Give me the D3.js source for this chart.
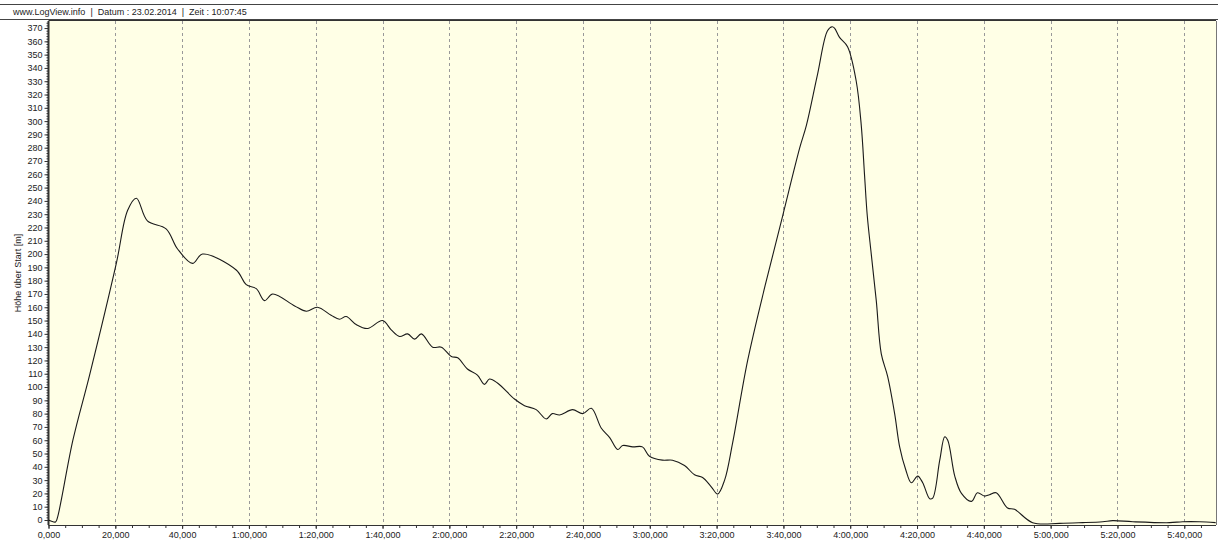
<!DOCTYPE html>
<html>
<head>
<meta charset="utf-8">
<script src="https://cdn.jsdelivr.net/npm/d3@7"></script>
<style>
  body { margin: 0; background: #fff; }
  svg { display: block; font-family: "Liberation Sans", Arial, sans-serif; }
  .axis text { font-size: 9px; fill: #222; }
  .axis path, .axis line { stroke: #333; }
</style>
</head>
<body>
<div id="chart"></div>
<script>
// time since start [s]
const times = [0, 0.9, 2.1, 2.7, 7.3, 12.3, 20.3, 23.7, 26.3, 29.6, 35.2, 38.6, 43.1, 46.1,
  56.2, 59.2, 62.2, 64.7, 67.1, 73.7, 77.2, 80.5, 84.6, 87.1, 89.1, 92.1, 95.5, 100.0, 102.6, 105.1,
  107.5, 109.6, 111.6, 115.0, 117.6, 120.6, 122.5, 125.4, 128.4, 130.5, 132.0, 134.4, 139.5, 142.5,
  146.0, 149.0, 150.8, 153.0, 156.9, 159.9, 162.5, 165.5, 168.0, 170.4, 171.9, 174.9, 177.8, 179.9,
  183.8, 186.8, 190.4, 193.4, 195.8, 198.4, 200.3, 202.4, 204.8, 209.3, 214.5, 219.8, 224.9, 226.9, 230.2,
  233.2, 234.6, 235.3, 236.8, 239.2, 241.8, 243.3, 244.3, 245.1, 246.3, 247.8, 249.3, 251.2, 253.3,
  254.8, 256.6, 258.3, 260.2, 261.7, 263.8, 264.7, 266.8, 268.3, 269.2, 271.3, 273.3, 276.3, 278.1,
  280.2, 281.7, 283.7, 287.1, 289.2, 294.6, 302.7, 309.6, 315.6, 318.6, 324.6, 335.6, 339.5, 344.6, 349.4];

// height above start [m]
const heights = [0, -1, -1.5, 2, 60, 109, 193, 233, 242, 225, 219, 204, 193, 200,
  188, 177, 174, 165, 170, 161, 157, 160, 154, 151, 153, 147, 144, 150, 143, 138,
  140, 136, 140, 130, 130, 123, 122, 113.6, 109, 102, 106, 103, 91, 86,
  83, 76, 80, 79, 83, 80, 84, 69, 62, 53, 56, 55, 55, 48,
  45, 45, 41, 34, 32, 25, 19.5, 30, 58, 120, 176, 229, 280, 297, 335,
  368, 371, 370, 363, 356, 330, 297, 259, 229, 200, 165, 125, 108, 80,
  55, 38, 28, 33, 28, 16, 16.5, 45, 62.6, 60, 33, 20, 14, 20.5,
  18, 19, 20.5, 9, 8, -2, -2.5, -2, -1.3, -0.5, -1.3, -2, -1.3, -1.3, -2];

const xTickValues = [0, 20, 40, 60, 80, 100, 120, 140, 160, 180, 200, 220, 240, 260, 280, 300, 320, 340];
const xTickLabels = ["0,000", "20,000", "40,000", "1:00,000", "1:20,000", "1:40,000", "2:00,000",
  "2:20,000", "2:40,000", "3:00,000", "3:20,000", "3:40,000", "4:00,000", "4:20,000", "4:40,000",
  "5:00,000", "5:20,000", "5:40,000"];
const yTickValues = d3.range(0, 371, 10);

const headerText = "www.LogView.info  |  Datum : 23.02.2014  |  Zeit : 10:07:45";
const yAxisLabel = "Höhe über Start [m]";

const W = 1218, H = 541;
const m = {left: 48.5, right: 1216, top: 21, bottom: 525};

const svg = d3.select("#chart").append("svg")
  .attr("width", W)
  .attr("height", H);

// header
svg.append("line").attr("x1", 0).attr("x2", W).attr("y1", 4.5).attr("y2", 4.5)
  .attr("stroke", "#444").attr("stroke-width", 1);
svg.append("line").attr("x1", 0).attr("x2", W).attr("y1", 19.5).attr("y2", 19.5)
  .attr("stroke", "#444").attr("stroke-width", 1);
svg.append("text")
  .attr("x", 13).attr("y", 15)
  .style("font-size", "9px").style("fill", "#222")
  .style("white-space", "pre")
  .text(headerText);

const x = d3.scaleLinear().domain([0, 349.5]).range([m.left, m.right]);
const y = d3.scaleLinear().domain([-3.76, 375.3]).range([m.bottom, m.top]);

// plot background
svg.append("rect")
  .attr("x", m.left).attr("y", m.top)
  .attr("width", m.right - m.left).attr("height", m.bottom - m.top)
  .attr("fill", "#ffffe6");

// vertical grid
svg.append("g").selectAll("line")
  .data(xTickValues.slice(1))
  .enter().append("line")
  .attr("x1", d => Math.round(x(d)) + 0.5)
  .attr("x2", d => Math.round(x(d)) + 0.5)
  .attr("y1", m.top).attr("y2", m.bottom)
  .attr("stroke", "#999")
  .attr("stroke-dasharray", "3,3");

// frame top/right
svg.append("line").attr("x1", m.left).attr("x2", m.right).attr("y1", m.top - 0.5).attr("y2", m.top - 0.5)
  .attr("stroke", "#333");
svg.append("line").attr("x1", m.right + 0.5).attr("x2", m.right + 0.5).attr("y1", m.top).attr("y2", m.bottom)
  .attr("stroke", "#777");

// minor ticks
const xMinor = d3.axisBottom(x).tickValues(d3.range(0, 350, 5)).tickSize(3).tickFormat("");
svg.append("g").attr("class", "axis")
  .attr("transform", "translate(0," + m.bottom + ")")
  .call(xMinor)
  .call(g => g.select(".domain").remove());
const yMinor = d3.axisLeft(y).tickValues(d3.range(0, 375, 2)).tickSize(2).tickFormat("");
svg.append("g").attr("class", "axis")
  .attr("transform", "translate(" + m.left + ",0)")
  .call(yMinor)
  .call(g => g.select(".domain").remove());

// x axis
const xAxis = d3.axisBottom(x)
  .tickValues(xTickValues)
  .tickSize(4)
  .tickPadding(3)
  .tickFormat((d, i) => xTickLabels[i]);
svg.append("g").attr("class", "axis")
  .attr("transform", "translate(0," + m.bottom + ")")
  .call(xAxis)
  .call(g => g.select(".domain").attr("d", "M" + m.left + ",0.5H" + m.right).attr("stroke-width", 1.2));

// y axis
const yAxis = d3.axisLeft(y)
  .tickValues(yTickValues)
  .tickSize(4)
  .tickPadding(2)
  .tickFormat(d3.format("d"));
svg.append("g").attr("class", "axis")
  .attr("transform", "translate(" + m.left + ",0)")
  .call(yAxis)
  .call(g => g.select(".domain").attr("d", "M0," + m.top + "V" + m.bottom).attr("stroke-width", 2));

svg.append("text")
  .attr("transform", "translate(21,273) rotate(-90)")
  .attr("text-anchor", "middle")
  .style("font-size", "9px").style("fill", "#222")
  .text(yAxisLabel);

// altitude line
const line = d3.line()
  .x((d, i) => x(times[i]))
  .y(d => y(d))
  .curve(d3.curveCatmullRom.alpha(0.5));

svg.append("path")
  .datum(heights)
  .attr("fill", "none")
  .attr("stroke", "#1a1a1a")
  .attr("stroke-width", 1.1)
  .attr("d", line);
</script>
</body>
</html>
